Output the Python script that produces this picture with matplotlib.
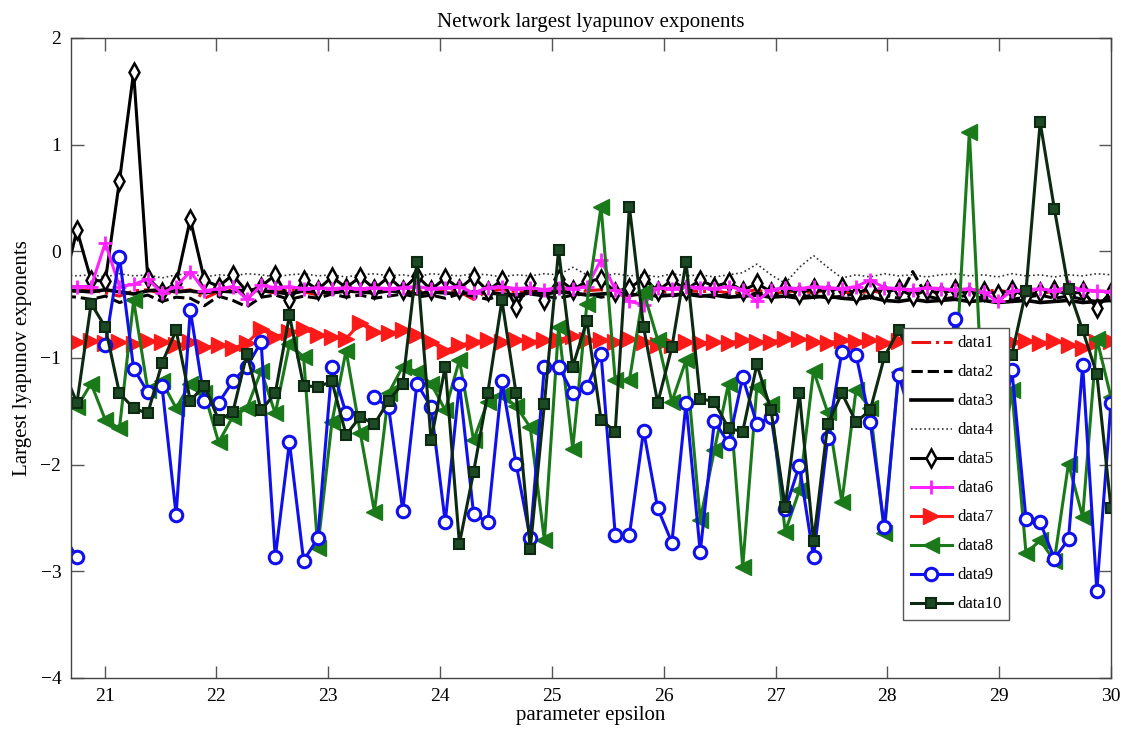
import numpy as np
import matplotlib
matplotlib.use("Agg")
import matplotlib.pyplot as plt

plt.rcParams['font.family'] = ['Liberation Serif', 'DejaVu Serif']
plt.rcParams['axes.unicode_minus'] = True

nan = np.nan

# parameter grid (first two points lie left of the visible range)
epsilon = np.linspace(20.5, 30, 76)

data1 = [-0.38, -0.38,
         -0.37, -0.36, -0.39, -0.42, -0.37, -0.36, -0.40, -0.38, -0.36, -0.44,
         -0.38, -0.36, -0.40, -0.37, -0.39, -0.36, -0.38, -0.41, -0.37, -0.36,
         -0.38, -0.37, -0.36, -0.39, -0.37, -0.38, -0.36, -0.38, -0.45, -0.37,
         -0.36, -0.38, -0.37, -0.39, -0.36, -0.38, -0.37, -0.36, -0.40, -0.42,
         -0.38, -0.37, -0.39, -0.36, -0.38, -0.37, -0.39, -0.38, -0.36, -0.40,
         -0.38, -0.37, -0.39, -0.36, -0.38, -0.40, -0.37, -0.39, -0.38, -0.36,
         -0.40, -0.38, -0.37, -0.39, -0.38, -0.36, -0.39, -0.38, -0.40, -0.37,
         -0.38, -0.39, -0.37, -0.38]
data2 = [-0.40, -0.42,
         -0.43, -0.45, -0.42, -0.48, -0.44, -0.41, -0.47, -0.43, -0.44, -0.51,
         -0.42, -0.46, -0.52, -0.43, -0.41, -0.45, -0.42, -0.44, -0.40, -0.43,
         -0.41, -0.44, -0.42, -0.40, -0.43, -0.41, -0.44, -0.40, -0.42, -0.45,
         -0.41, -0.43, -0.40, -0.42, -0.44, -0.41, -0.40, -0.43, -0.41, -0.38,
         -0.22, -0.40, -0.42, -0.39, -0.41, -0.43, -0.40, -0.42, -0.39, -0.41,
         -0.40, -0.43, -0.41, -0.44, -0.42, -0.40, -0.43, -0.41, -0.44, -0.19,
         -0.42, -0.45, -0.43, -0.41, -0.44, -0.42, -0.45, -0.43, -0.41, -0.44,
         -0.42, -0.45, -0.47, -0.43]
data3 = [-0.38, -0.37,
         -0.37, -0.38, -0.36, -0.38, -0.40, -0.37, -0.36, -0.38, -0.37, -0.39,
         -0.37, -0.38, -0.36, -0.37, -0.38, -0.40, -0.37, -0.38, -0.39, -0.37,
         -0.38, -0.39, -0.37, -0.38, -0.40, -0.38, -0.39, -0.40, -0.38, -0.39,
         -0.40, -0.41, -0.39, -0.40, -0.38, -0.39, -0.41, -0.40, -0.39, -0.41,
         -0.40, -0.42, -0.41, -0.40, -0.42, -0.41, -0.43, -0.42, -0.41, -0.43,
         -0.42, -0.44, -0.43, -0.42, -0.44, -0.45, -0.43, -0.46, -0.47, -0.45,
         -0.47, -0.46, -0.45, -0.47, -0.46, -0.48, -0.47, -0.46, -0.48, -0.47,
         -0.46, -0.48, -0.47, -0.46]
data4 = [-0.22, -0.22,
         -0.23, -0.22, -0.24, -0.21, -0.23, -0.22, -0.25, -0.22, -0.21, -0.24,
         -0.22, -0.23, -0.21, -0.22, -0.24, -0.22, -0.21, -0.23, -0.22, -0.24,
         -0.22, -0.21, -0.23, -0.22, -0.24, -0.21, -0.22, -0.23, -0.21, -0.22,
         -0.24, -0.22, -0.23, -0.21, -0.22, -0.15, -0.22, -0.24, -0.21, -0.23,
         -0.22, -0.24, -0.21, -0.23, -0.22, -0.24, -0.22, -0.20, -0.12, -0.22,
         -0.30, -0.15, -0.04, -0.15, -0.25, -0.22, -0.24, -0.21, -0.23, -0.22,
         -0.24, -0.22, -0.21, -0.23, -0.22, -0.24, -0.21, -0.23, -0.22, -0.24,
         -0.22, -0.23, -0.21, -0.22]
data5 = [-0.30, -0.35,
         0.20, -0.27, -0.28, 0.66, 1.68, -0.25, -0.38, -0.30, 0.30, -0.27,
         -0.33, -0.22, -0.38, -0.33, -0.22, -0.46, -0.27, -0.36, -0.24, -0.34,
         -0.24, -0.35, -0.24, -0.36, -0.23, -0.36, -0.25, -0.35, -0.24, -0.37,
         -0.27, -0.52, -0.30, -0.46, -0.26, -0.36, -0.28, -0.26, -0.38, -0.34,
         -0.26, -0.37, -0.27, -0.36, -0.27, -0.33, -0.29, -0.37, -0.30, -0.38,
         -0.33, -0.40, -0.34, -0.39, -0.33, -0.40, -0.34, -0.39, -0.35, -0.42,
         -0.36, -0.40, -0.35, -0.41, -0.37, -0.40, -0.36, -0.42, -0.38, -0.36,
         -0.41, -0.37, -0.53, -0.38]
data6 = [-0.33, -0.33,
         -0.33, -0.33, 0.08, -0.33, -0.31, -0.26, -0.39, -0.33, -0.19, -0.37,
         -0.35, -0.33, -0.45, -0.32, -0.34, -0.33, -0.35, -0.34, -0.35, -0.34,
         -0.35, -0.34, -0.35, -0.34, -0.33, -0.35, -0.34, -0.33, -0.39, -0.34,
         -0.33, -0.35, -0.34, -0.36, -0.34, -0.35, -0.33, -0.08, -0.36, -0.47,
         -0.50, -0.34, -0.35, -0.33, -0.34, -0.35, -0.33, -0.36, -0.47, -0.36,
         -0.34, -0.35, -0.33, -0.34, -0.35, -0.33, -0.27, -0.34, -0.35, -0.36,
         -0.34, -0.35, -0.36, -0.35, -0.38, -0.47, -0.37, -0.36, -0.35, -0.37,
         -0.33, -0.36, -0.37, -0.38]
data7 = [-0.85, -0.86,
         -0.85, -0.84, -0.86, -0.85, -0.87, -0.84, -0.85, -0.88, -0.85, -0.90,
         -0.88, -0.91, -0.86, -0.73, -0.80, -0.76, -0.73, -0.78, -0.80, -0.82,
         -0.67, -0.76, -0.77, -0.74, -0.78, -0.85, -0.93, -0.88, -0.85, -0.83,
         -0.85, -0.83, -0.85, -0.83, -0.83, -0.79, -0.83, -0.83, -0.85, -0.82,
         -0.85, -0.88, -0.88, -0.85, -0.86, -0.85, -0.86, -0.83, -0.85, -0.85,
         -0.82, -0.82, -0.85, -0.86, -0.83, -0.85, -0.83, -0.86, -0.84, -0.85,
         -0.84, -0.86, -0.85, -0.84, -0.86, -0.85, -0.85, -0.84, -0.86, -0.84,
         -0.88, -0.91, -0.85, -0.84]
data8 = [-1.20, -1.50,
         -1.46, -1.24, -1.58, -1.66, -0.46, -1.30, -1.22, -1.47, -1.24, -1.33,
         -1.79, -1.55, -1.47, -1.12, -1.52, -0.87, -0.99, -2.78, -1.60, -0.93,
         -1.70, -2.44, -1.33, -1.08, -1.13, -1.24, -1.49, -1.02, -1.77, -1.41,
         -1.35, -1.45, -1.65, -2.71, -0.71, -1.85, -0.49, 0.42, -1.21, -1.21,
         -0.38, -0.83, -1.41, -1.02, -2.52, -1.86, -1.24, -2.96, -1.27, -1.43,
         -2.63, -2.24, -1.12, -1.51, -2.35, -1.30, -1.47, -2.64, -1.13, -1.50,
         -2.00, -1.40, -1.20, 1.12, -1.60, -2.20, -1.30, -2.83, -2.71, -2.90,
         -1.99, -2.49, -0.82, -1.37]
data9 = [-2.00, -2.65,
         -2.87, nan, -0.88, -0.05, -1.10, -1.32, -1.26, -2.47, -0.55, -1.40,
         -1.42, -1.22, -1.08, -0.85, -2.87, -1.79, -2.90, -2.69, -1.08, -1.52,
         nan, -1.37, -1.46, -2.43, -1.24, -1.46, -2.54, -1.24, -2.46, -2.54,
         -1.22, -1.99, -2.69, -1.08, -1.08, -1.33, -1.27, -0.96, -2.66, -2.66,
         -1.68, -2.41, -2.73, -1.42, -2.82, -1.59, -1.80, -1.18, -1.62, -1.55,
         -2.42, -2.01, -2.87, -1.75, -0.94, -0.97, -1.60, -2.58, -1.16, -1.60,
         -2.20, -1.30, -0.63, -1.50, -2.30, -1.90, -1.11, -2.51, -2.54, -2.88,
         -2.70, -1.07, -3.18, -1.42]
data10 = [-0.80, -1.10,
          -1.42, -0.49, -0.71, -1.33, -1.47, -1.52, -1.05, -0.74, -1.40, -1.26,
          -1.58, -1.51, -0.96, -1.49, -1.33, -0.60, -1.26, -1.27, -1.22, -1.72,
          -1.55, -1.62, -1.40, -1.24, -0.10, -1.77, -1.08, -2.74, -2.07, -1.33,
          -0.46, -1.33, -2.79, -1.43, 0.01, -1.08, -0.65, -1.58, -1.69, 0.42,
          -0.71, -1.42, -0.90, -0.10, -1.38, -1.41, -1.66, -1.69, -1.06, -1.49,
          -2.40, -1.33, -2.72, -1.62, -1.33, -1.60, -1.49, -0.99, -0.74, -1.00,
          -1.50, -1.20, -1.30, -1.00, -1.40, -1.10, -0.97, -0.37, 1.21, 0.40,
          -0.35, -0.74, -1.15, -2.41]

fig = plt.figure(figsize=(11.27, 7.37), dpi=100)
ax = fig.add_axes([71 / 1127, 1 - 678 / 737, 1040 / 1127, 640 / 737])

lw = 2.2
ax.plot(epsilon, data1, color='#ee1111', ls='-.', lw=lw, label='data1')
ax.plot(epsilon, data2, color='black', ls='--', lw=lw, label='data2')
ax.plot(epsilon, data3, color='black', ls='-', lw=lw + 0.4, label='data3')
ax.plot(epsilon, data4, color='#333333', ls=':', lw=1.2, label='data4')
ax.plot(epsilon, data5, color='black', lw=lw, marker='d', ms=9,
        mfc='white', mec='black', mew=1.8, label='data5')
ax.plot(epsilon, data6, color='#ff22ff', lw=lw, marker='+', ms=10,
        mew=2, label='data6')
ax.plot(epsilon, data7, color='#ff1a1a', lw=lw, marker='>', ms=12,
        mfc='#ff1a1a', mec='#ff1a1a', label='data7')
ax.plot(epsilon, data8, color='#1a7a1a', lw=lw, marker='<', ms=11,
        mfc='#1a7a1a', mec='#1a7a1a', label='data8')
ax.plot(epsilon, data9, color='#1010ee', lw=lw, marker='o', ms=9,
        mfc='white', mec='#1010ee', mew=2.2, label='data9')
ax.plot(epsilon, data10, color='#0c2a12', lw=lw, marker='s', ms=7,
        mfc='#1d4a25', mec='#0c2a12', mew=1.5, label='data10')

ax.set_xlim(20.7, 30)
ax.set_ylim(-4, 2)
ax.set_xticks(range(21, 31))
ax.set_yticks(range(-4, 3))

ax.tick_params(direction='in', length=9, width=1, colors='#555555',
               labelcolor='black', labelsize=14, top=True, right=True, pad=7)
for s in ax.spines.values():
    s.set_color('#444444')
    s.set_linewidth(1.0)

ax.set_title('Network largest lyapunov exponents', fontsize=15, pad=8)
ax.set_xlabel('parameter epsilon', fontsize=15, labelpad=1)
ax.set_ylabel('Largest lyapunov exponents', fontsize=15, labelpad=6)

leg = ax.legend(loc='upper left', bbox_to_anchor=(0.80, 0.547), fontsize=12,
                frameon=True, fancybox=False, edgecolor='#555555',
                framealpha=1, handlelength=2.5, labelspacing=0.78,
                borderpad=0.45, handletextpad=0.3, borderaxespad=0)
leg.get_frame().set_linewidth(1.0)

fig.savefig('out.png', dpi=100)
